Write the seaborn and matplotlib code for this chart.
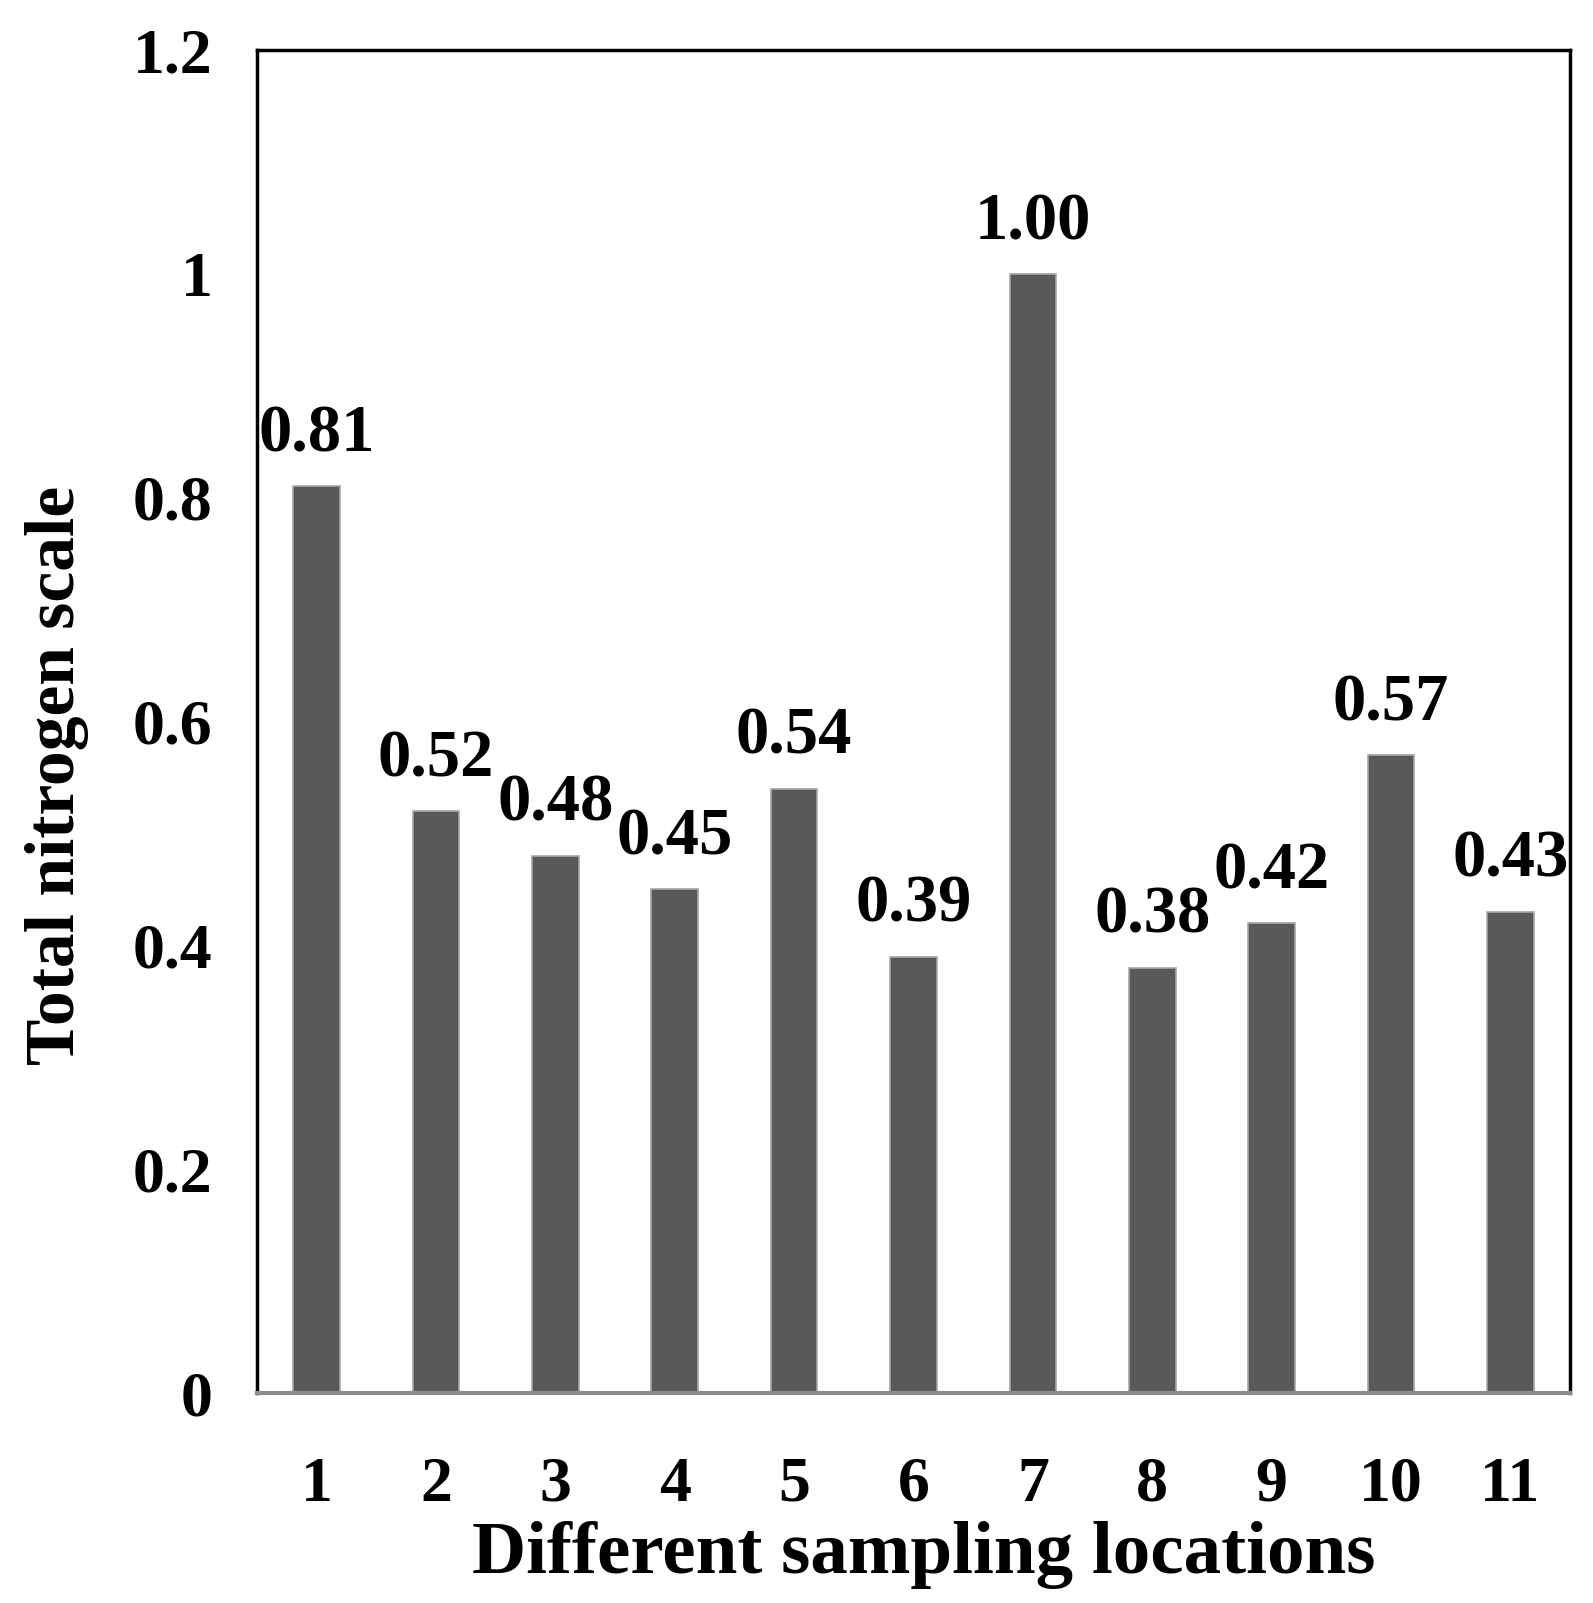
import matplotlib
matplotlib.use("Agg")
import matplotlib.pyplot as plt
import pandas as pd
import seaborn as sns

locations = ["1", "2", "3", "4", "5", "6", "7", "8", "9", "10", "11"]
nitrogen = [0.81, 0.52, 0.48, 0.45, 0.54, 0.39, 1.00, 0.38, 0.42, 0.57, 0.43]
y_ticks = [0, 0.2, 0.4, 0.6, 0.8, 1.0, 1.2]
y_tick_labels = ["0", "0.2", "0.4", "0.6", "0.8", "1", "1.2"]

sns.set_style("white")
plt.rcParams["font.family"] = ["Liberation Serif", "DejaVu Serif"]
plt.rcParams["text.color"] = "black"
plt.rcParams["xtick.color"] = "black"
plt.rcParams["ytick.color"] = "black"
plt.rcParams["axes.labelcolor"] = "black"

df = pd.DataFrame({"location": locations, "value": nitrogen})

fig = plt.figure(figsize=(15.93, 16.03), dpi=100)
ax = fig.add_axes([0.1613, 0.131, 0.8243, 0.8378])

sns.barplot(data=df, x="location", y="value", order=locations, color="#595959",
            saturation=1, width=0.39, edgecolor="#a6a6a6", linewidth=1.2, ax=ax)

ax.set_ylim(0, 1.2)
ax.set_xlim(-0.5, len(locations) - 0.5)
ax.set_yticks(y_ticks)
ax.set_yticklabels(y_tick_labels)
ax.tick_params(axis="both", length=0, labelsize=46, labelcolor="black")
ax.tick_params(axis="x", pad=46)
ax.tick_params(axis="y", pad=32)
for lab in ax.get_xticklabels() + ax.get_yticklabels():
    lab.set_fontweight("bold")

for side in ["left", "top", "right"]:
    ax.spines[side].set_color("black")
    ax.spines[side].set_linewidth(2.5)
ax.spines["bottom"].set_color("#8c8c8c")
ax.spines["bottom"].set_linewidth(3)

# value labels above the bars
ax.bar_label(ax.containers[0], labels=[f"{v:.2f}" for v in nitrogen],
             padding=15, fontsize=48, fontweight="bold", color="black")

ax.set_xlabel("Different sampling locations", fontsize=54, fontweight="bold")
ax.set_ylabel("Total nitrogen scale", fontsize=50, fontweight="bold")
ax.xaxis.set_label_coords(0.508, -0.095)
ax.yaxis.set_label_coords(-0.128, 0.46)

fig.savefig("out.png", dpi=100)
